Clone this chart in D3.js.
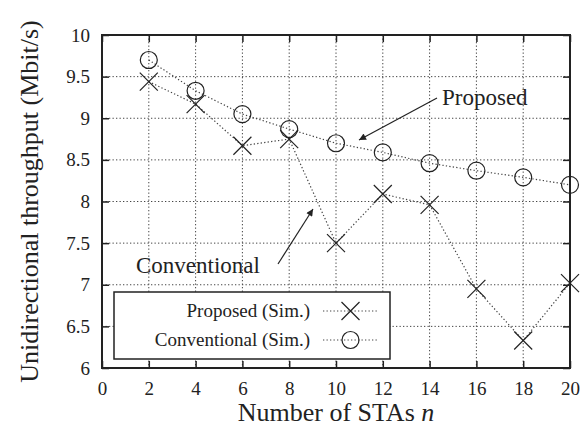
<!DOCTYPE html>
<html>
<head>
<meta charset="utf-8">
<script src="https://cdn.jsdelivr.net/npm/d3@7"></script>
<style>
  body { margin: 0; background: #fff; }
  svg text { font-family: "Liberation Serif", "LiberationSerif", "Tinos", "Times New Roman", "DejaVu Serif", serif; }
</style>
</head>
<body>
<svg width="581" height="429"></svg>
<script>
// data
const stas = [2, 4, 6, 8, 10, 12, 14, 16, 18, 20];
const proposedSim = [9.44, 9.17, 8.67, 8.75, 7.50, 8.09, 7.96, 6.95, 6.33, 7.02];
const conventionalSim = [9.70, 9.33, 9.05, 8.87, 8.70, 8.59, 8.46, 8.37, 8.29, 8.20];
const xTicks = [0, 2, 4, 6, 8, 10, 12, 14, 16, 18, 20];
const yTicks = [6, 6.5, 7, 7.5, 8, 8.5, 9, 9.5, 10];

const margin = {top: 35, right: 11, bottom: 61, left: 102},
      width = 581 - margin.left - margin.right,
      height = 429 - margin.top - margin.bottom;

const svg = d3.select('svg');
const g = svg.append('g').attr('transform', `translate(${margin.left},${margin.top})`);

const x = d3.scaleLinear().domain([0, 20]).range([0, width]);
const y = d3.scaleLinear().domain([6, 10]).range([height, 0]);

// grid
g.append('g').selectAll('line').data(xTicks.slice(1, -1)).join('line')
  .attr('x1', d => x(d)).attr('x2', d => x(d))
  .attr('y1', 0).attr('y2', height)
  .attr('stroke', '#444').attr('stroke-width', 1).attr('stroke-dasharray', '1.3,2.2');
g.append('g').selectAll('line').data(yTicks.slice(1, -1)).join('line')
  .attr('y1', d => y(d)).attr('y2', d => y(d))
  .attr('x1', 0).attr('x2', width)
  .attr('stroke', '#444').attr('stroke-width', 1).attr('stroke-dasharray', '1.3,2.2');

// axes, ticks inward on all sides
const axBottom = g.append('g').attr('transform', `translate(0,${height})`)
  .call(d3.axisBottom(x).tickValues(xTicks).tickSize(-7).tickPadding(14));
const axTop = g.append('g')
  .call(d3.axisTop(x).tickValues(xTicks).tickSize(-7).tickFormat(''));
const axLeft = g.append('g')
  .call(d3.axisLeft(y).tickValues(yTicks).tickSize(-7).tickPadding(12).tickFormat(d3.format('')));
const axRight = g.append('g').attr('transform', `translate(${width},0)`)
  .call(d3.axisRight(y).tickValues(yTicks).tickSize(-7).tickFormat(''));

[axBottom, axTop, axLeft, axRight].forEach(a => {
  a.attr('font-family', null);
  a.select('.domain').remove();
  a.selectAll('line').attr('stroke', '#222').attr('stroke-width', 1.5);
  a.selectAll('text').attr('font-size', 19).attr('fill', '#222');
});

g.append('rect').attr('width', width).attr('height', height)
  .attr('fill', 'none').attr('stroke', '#222').attr('stroke-width', 2);

// series
const line = d3.line().x(d => x(d[0])).y(d => y(d[1]));
const propPts = stas.map((s, i) => [s, proposedSim[i]]);
const convPts = stas.map((s, i) => [s, conventionalSim[i]]);

function drawX(sel, cx, cy) {
  const r = 9;
  sel.append('path')
    .attr('d', `M${cx - r},${cy - r}L${cx + r},${cy + r}M${cx - r},${cy + r}L${cx + r},${cy - r}`)
    .attr('stroke', '#222').attr('stroke-width', 1.2).attr('fill', 'none');
}
function drawO(sel, cx, cy) {
  sel.append('circle').attr('cx', cx).attr('cy', cy).attr('r', 8.5)
    .attr('stroke', '#222').attr('stroke-width', 1.2).attr('fill', 'none');
}

g.append('path').datum(propPts).attr('d', line)
  .attr('fill', 'none').attr('stroke', '#444').attr('stroke-width', 1.2).attr('stroke-dasharray', '1.3,2.2');
g.append('path').datum(convPts).attr('d', line)
  .attr('fill', 'none').attr('stroke', '#444').attr('stroke-width', 1.2).attr('stroke-dasharray', '1.3,2.2');

const marks = g.append('g');
propPts.forEach(d => drawX(marks, x(d[0]), y(d[1])));
convPts.forEach(d => drawO(marks, x(d[0]), y(d[1])));

// legend
const leg = svg.append('g');
leg.append('rect').attr('x', 114).attr('y', 292).attr('width', 276).attr('height', 67)
  .attr('fill', '#fff').attr('stroke', '#222').attr('stroke-width', 1.5);
const legItems = [
  {label: 'Proposed (Sim.)', y: 311, mark: drawX},
  {label: 'Conventional (Sim.)', y: 340, mark: drawO}
];
legItems.forEach(it => {
  leg.append('text').attr('x', 310).attr('y', it.y).attr('dy', '0.33em')
    .attr('text-anchor', 'end').attr('font-size', 19).attr('fill', '#222').text(it.label);
  leg.append('line').attr('x1', 323).attr('x2', 378).attr('y1', it.y).attr('y2', it.y)
    .attr('stroke', '#444').attr('stroke-width', 1.2).attr('stroke-dasharray', '1.3,2.2');
  it.mark(leg, 350.5, it.y);
});

// annotations
svg.append('defs').append('marker')
  .attr('id', 'arr').attr('viewBox', '0 0 10 10').attr('refX', 10).attr('refY', 5)
  .attr('markerWidth', 14).attr('markerHeight', 7).attr('markerUnits', 'userSpaceOnUse')
  .attr('orient', 'auto')
  .append('path').attr('d', 'M0,0L10,5L0,10z').attr('fill', '#222');

svg.append('line').attr('x1', 437).attr('y1', 98).attr('x2', 359).attr('y2', 140)
  .attr('stroke', '#222').attr('stroke-width', 1.2).attr('marker-end', 'url(#arr)');
svg.append('text').attr('x', 442).attr('y', 105).attr('font-size', 23).attr('fill', '#222').text('Proposed');

svg.append('line').attr('x1', 278).attr('y1', 264).attr('x2', 313).attr('y2', 209)
  .attr('stroke', '#222').attr('stroke-width', 1.2).attr('marker-end', 'url(#arr)');
svg.append('text').attr('x', 136).attr('y', 273).attr('font-size', 23).attr('fill', '#222').text('Conventional');

// axis titles
const xt = svg.append('text').attr('x', margin.left + width / 2).attr('y', 421)
  .attr('text-anchor', 'middle').attr('font-size', 26).attr('fill', '#222');
xt.append('tspan').text('Number of STAs ');
xt.append('tspan').attr('font-style', 'italic').text('n');

svg.append('text').attr('transform', `translate(38,${margin.top + height / 2}) rotate(-90)`)
  .attr('text-anchor', 'middle').attr('font-size', 26).attr('fill', '#222')
  .text('Unidirectional throughput (Mbit/s)');
</script>
</body>
</html>
